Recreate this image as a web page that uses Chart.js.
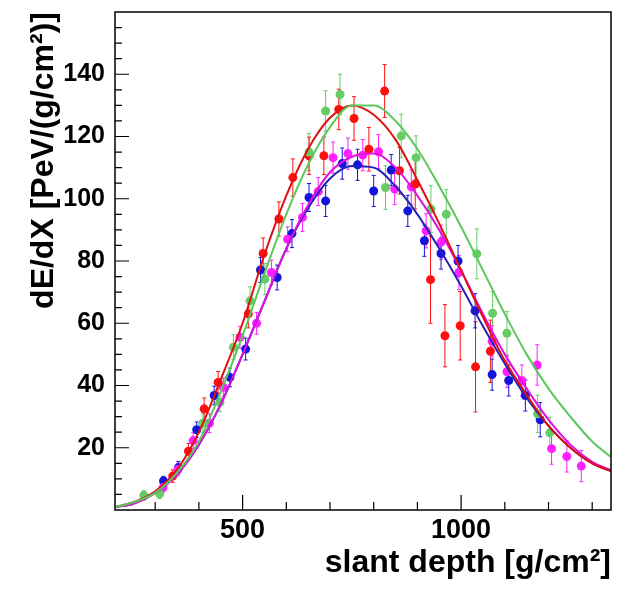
<!DOCTYPE html>
<html>
<head>
<meta charset="utf-8">
<script src="https://cdn.jsdelivr.net/npm/chart.js@4.4.0/dist/chart.umd.min.js"></script>
<style>
  html, body { margin: 0; padding: 0; background: #fff; }
  #wrap { width: 624px; height: 591px; }
</style>
</head>
<body>
<div id="wrap"><canvas id="myChart" width="624" height="591"></canvas></div>
<script>
const redX = [340, 376, 412, 444, 513, 547, 583, 615, 652, 686, 720, 755, 789, 825, 859, 895, 930, 963, 998, 1033, 1067];
const redY = [10.9, 18.9, 32.5, 41, 63, 82.4, 93.5, 106.8, 113.8, 113.8, 128.7, 125.8, 115.9, 134.6, 109, 104.7, 74, 56, 59.2, 46, 51];
const redErr = [2, 2.5, 3.5, 3.5, 4.5, 5, 5.5, 6, 6, 6, 6.5, 7, 7, 8.5, 7.5, 8, 14, 10, 11, 14.5, 10];

const greenX = [274, 310, 409, 448, 479, 517, 551, 652, 690, 723, 827, 863, 897, 931, 966, 1036, 1072, 1105, 1175, 1203];
const greenY = [4.7, 5.2, 27.9, 34.6, 52.3, 67.2, 74.2, 115, 128.2, 133.5, 103.6, 120.2, 113.2, 96.7, 95, 82.3, 63.2, 56.8, 30.9, 24.8];
const greenErr = [1.5, 1.5, 3, 3, 4, 4.5, 5, 6, 6.5, 6.5, 7, 7, 7, 7.5, 8, 8, 7, 7, 6, 5];

const magentaX = [318, 352, 387, 424, 456, 494, 532, 566, 603, 637, 673, 707, 741, 775, 811, 848, 886, 920, 954, 995, 1071, 1105, 1139, 1174, 1207, 1242, 1275];
const magentaY = [7.2, 13, 22.3, 27.9, 39.4, 55.5, 60, 76.3, 87, 94, 102.3, 113.2, 114.5, 114, 115.1, 103.1, 103.8, 89.7, 86, 76.3, 54.2, 44.4, 41.6, 46.6, 19.7, 17.2, 14.1];
const magentaErr = [1.5, 2, 2.5, 3, 3, 3.5, 3.5, 4, 4, 4.5, 4.5, 5, 5, 5, 5.5, 5, 5.5, 5.5, 5.5, 5.5, 5, 5, 5, 6.5, 5, 5, 5];

const blueX = [319, 353, 395, 435, 471, 507, 541, 579, 613, 652, 690, 728, 763, 800, 840, 878, 916, 954, 993, 1032, 1071, 1109, 1147, 1181];
const blueY = [9.3, 13.6, 25.8, 36.8, 42.6, 51.7, 77.1, 74.7, 88.8, 100.4, 99.3, 111.3, 110.9, 102.5, 109.2, 96.1, 86.5, 82.4, 80, 64, 43.5, 41.6, 36.8, 29];
const blueErr = [1.5, 2, 2.5, 3, 3, 3.5, 4, 4, 4.5, 4.5, 5, 5, 5, 5, 5, 5, 5, 5, 5, 5.5, 5, 5, 5, 5.5];

// fitted curves
const curveX = [210, 250, 300, 350, 400, 450, 500, 550, 600, 650, 700, 750, 800, 850, 900, 950, 1000, 1050, 1100, 1150, 1200, 1250, 1300, 1343];
const redFit = [1, 2.5, 6, 13, 25, 42, 60, 82, 101, 116, 126, 130, 127, 119, 106, 92, 77, 62, 48, 37, 27, 20, 15, 12.5];
const greenFit = [1, 2.5, 5.5, 12, 22, 38, 56, 76, 95, 111, 123, 130, 130, 125, 116, 104, 91, 77, 63, 50, 39, 30, 22, 17];
const magentaFit = [1, 2, 5.5, 11.5, 21, 34, 50, 67, 84, 98, 108.5, 113.5, 114.5, 110, 101, 90, 77, 63, 50, 39, 29, 21, 15.5, 12.8];
const blueFit = [1, 2, 5.5, 11.5, 21, 34, 50, 67, 84, 97, 106.5, 110.5, 110, 104, 95, 84, 72, 59, 47, 36, 27, 20, 15, 12.5];

const xTickLabels = [500, 1000];
const yTickLabels = [20, 40, 60, 80, 100, 120, 140];

function toPoints(xs, ys) {
    return xs.map((x, i) => ({ x: x, y: ys[i] }));
}

function pointSet(xs, ys, errs, color) {
    return {
        data: toPoints(xs, ys),
        errors: errs,
        showLine: false,
        backgroundColor: color,
        borderWidth: 0,
        pointRadius: 4.5,
        order: 1,
    };
}

function curveSet(xs, ys, color) {
    return {
        data: toPoints(xs, ys),
        showLine: true,
        borderColor: color,
        borderWidth: 2,
        pointRadius: 0,
        cubicInterpolationMode: 'monotone',
        order: 0,
    };
}

// error bars under markers, frame and inward ticks like ROOT
const frameAndErrors = {
    id: 'frameAndErrors',
    beforeDatasetsDraw(chart) {
        const ctx = chart.ctx;
        const xs = chart.scales.x, ys = chart.scales.y;
        ctx.save();
        ctx.lineWidth = 1;
        chart.data.datasets.forEach(ds => {
            if (!ds.errors) return;
            ctx.strokeStyle = ds.backgroundColor;
            ds.data.forEach((p, i) => {
                const px = xs.getPixelForValue(p.x);
                const top = ys.getPixelForValue(p.y + ds.errors[i]);
                const bot = ys.getPixelForValue(p.y - ds.errors[i]);
                ctx.beginPath();
                ctx.moveTo(px, top); ctx.lineTo(px, bot);
                ctx.moveTo(px - 2, top); ctx.lineTo(px + 2, top);
                ctx.moveTo(px - 2, bot); ctx.lineTo(px + 2, bot);
                ctx.stroke();
            });
        });
        ctx.restore();
    },
    afterDraw(chart) {
        const ctx = chart.ctx;
        const a = chart.chartArea;
        const xs = chart.scales.x, ys = chart.scales.y;
        ctx.save();
        ctx.strokeStyle = '#000';
        ctx.lineWidth = 1.5;
        ctx.strokeRect(a.left, a.top, a.right - a.left, a.bottom - a.top);
        ctx.lineWidth = 1.2;
        ctx.beginPath();
        for (let v = 300; v <= 1300; v += 100) {
            const px = xs.getPixelForValue(v);
            const len = v % 500 === 0 ? 15 : 8;
            ctx.moveTo(px, a.bottom); ctx.lineTo(px, a.bottom - len);
        }
        for (let v = 5; v < 160; v += 5) {
            const py = ys.getPixelForValue(v);
            const len = v % 20 === 0 ? 14 : 7;
            ctx.moveTo(a.left, py); ctx.lineTo(a.left + len, py);
        }
        ctx.stroke();
        ctx.restore();
    }
};

const xTickFont = { family: 'Liberation Sans', size: 27, weight: 'bold' };
const yTickFont = { family: 'Liberation Sans', size: 25, weight: 'bold' };
const titleFont = { family: 'Liberation Sans', size: 32, weight: 'bold' };

const ctx = document.getElementById('myChart').getContext('2d');
const myChart = new Chart(ctx, {
    type: 'scatter',
    data: {
        datasets: [
            curveSet(curveX, greenFit, '#5cc85c'),
            curveSet(curveX, redFit, '#e01010'),
            curveSet(curveX, magentaFit, '#e010e0'),
            curveSet(curveX, blueFit, '#2222b8'),
            pointSet(greenX, greenY, greenErr, '#66cc66'),
            pointSet(redX, redY, redErr, '#ff1010'),
            pointSet(magentaX, magentaY, magentaErr, '#ff20ff'),
            pointSet(blueX, blueY, blueErr, '#1414dc'),
        ],
    },
    options: {
        responsive: false,
        devicePixelRatio: 1,
        animation: false,
        layout: { padding: { top: 12, right: 13, left: 0, bottom: 0 } },
        plugins: { legend: { display: false }, tooltip: { enabled: false } },
        scales: {
            x: {
                type: 'linear',
                min: 208,
                max: 1343,
                afterBuildTicks: s => { s.ticks = xTickLabels.map(v => ({ value: v })); },
                afterFit: s => { s.height = 81; s.paddingLeft = 0; s.paddingRight = 0; },
                grid: { display: false, drawTicks: false },
                border: { display: false },
                ticks: { color: '#000', font: xTickFont, padding: 4, autoSkip: false, maxRotation: 0, callback: v => String(v) },
                title: {
                    display: true,
                    text: 'slant depth [g/cm²]',
                    align: 'end',
                    color: '#000',
                    font: titleFont,
                    padding: { top: 0, bottom: 9 },
                },
            },
            y: {
                type: 'linear',
                min: 0,
                max: 160,
                afterBuildTicks: s => { s.ticks = yTickLabels.map(v => ({ value: v })); },
                afterFit: s => { s.width = 115; s.paddingTop = 0; s.paddingBottom = 0; },
                grid: { display: false, drawTicks: false },
                border: { display: false },
                ticks: { color: '#000', font: yTickFont, padding: 10, autoSkip: false, callback: v => String(v) },
                title: {
                    display: true,
                    text: 'dE/dX [PeV/(g/cm²)]',
                    align: 'end',
                    color: '#000',
                    font: titleFont,
                    padding: { top: 25, bottom: 0 },
                },
            },
        },
    },
    plugins: [frameAndErrors],
});
</script>
</body>
</html>
